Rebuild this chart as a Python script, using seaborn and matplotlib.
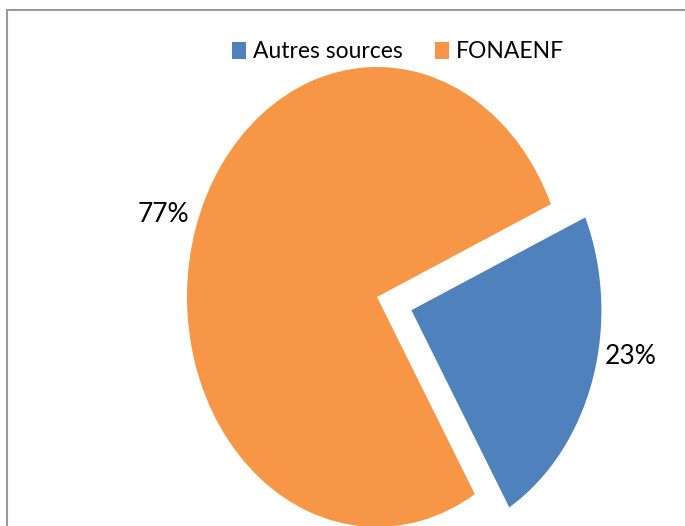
import matplotlib
matplotlib.use("Agg")
import numpy as np
import matplotlib.pyplot as plt
import seaborn as sns
from matplotlib.patches import Rectangle

categories = ["Autres sources", "FONAENF"]
values = [23, 77]
colors = ["#4F81BD", "#F79646"]
explode = [0.19, 0.0]

sns.set_theme(style="white")
plt.rcParams['font.family'] = ['Lato', 'DejaVu Sans']
plt.rcParams['text.color'] = 'black'

W, H = 685, 526
fig = plt.figure(figsize=(W / 100, H / 100), dpi=100)
ax = fig.add_axes([0, 0, 1, 1])

cx, cy, rx, ry = 377, 297, 190, 230
wedges, texts, autotexts = ax.pie(
    values, colors=colors, explode=explode, startangle=-59,
    counterclock=True, autopct='%1.0f%%', pctdistance=1.18,
    wedgeprops=dict(linewidth=0),
    textprops=dict(fontsize=19, color='black'))
ax.set_aspect('auto')
ax.set_xlim(-cx / rx, (W - cx) / rx)
ax.set_ylim((cy - H) / ry, cy / ry)
ax.axis('off')

# label of the exploded wedge sits a bit higher (Excel placement)
w = wedges[0]
ang = np.deg2rad(-10)
autotexts[0].set_position((w.center[0] + 1.17 * np.cos(ang), w.center[1] + 1.17 * np.sin(ang)))

leg = fig.legend(wedges, categories, loc='center', bbox_to_anchor=(398 / W, 1 - 52 / H),
                 ncol=2, frameon=False, fontsize=16.5, handlelength=0.6, handleheight=0.75,
                 handletextpad=0.3, columnspacing=1.4, labelcolor='black')

fig.patches.append(Rectangle((7 / W, -0.1), 1.2, 1.1 - 10 / H, transform=fig.transFigure,
                             fill=False, edgecolor='#9a9a9a', linewidth=1.5))

fig.savefig("out.png", dpi=100)
